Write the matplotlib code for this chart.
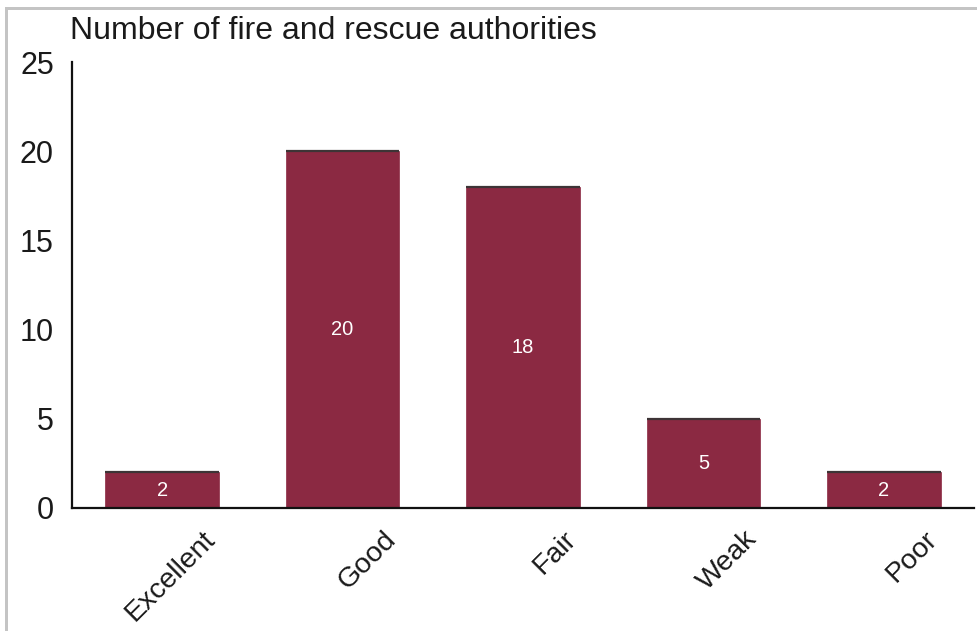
import matplotlib
matplotlib.use("Agg")
import matplotlib.pyplot as plt
from matplotlib.patches import Rectangle

categories = ["Excellent", "Good", "Fair", "Weak", "Poor"]
values = [2, 20, 18, 5, 2]
yticks = [0, 5, 10, 15, 20, 25]
title = "Number of fire and rescue authorities"

plt.rcParams['font.family'] = ['Liberation Sans', 'DejaVu Sans']

fig = plt.figure(figsize=(9.78, 6.31), dpi=100)
ax = fig.add_axes([0.0736, 0.195, 0.996 - 0.0736, 0.9017 - 0.195])

bar_w = 0.63
bar_color = "#8b2942"
x = list(range(len(categories)))
ax.bar(x, values, width=bar_w, color=bar_color, edgecolor=bar_color, linewidth=0.5)
ax.hlines(values, [xi - bar_w / 2 for xi in x], [xi + bar_w / 2 for xi in x],
          colors="#3d3436", linewidth=1.6)
for xi, v in zip(x, values):
    ax.text(xi, v / 2, str(v), ha="center", va="center", color="white", fontsize=14.5)

ax.set_xlim(-0.5, 4.5)
ax.set_ylim(0, 25)
ax.set_yticks(yticks)
ax.set_yticklabels([str(t) for t in yticks], fontsize=22, color="#1a1a1a")
ax.set_xticks(x)
ax.set_xticklabels([])
for xi, cat in zip(x, categories):
    ax.annotate(cat, xy=(xi, 0), xycoords=("data", "axes fraction"),
                xytext=(40, -18), textcoords="offset pixels",
                rotation=45, ha="right", va="top", rotation_mode="anchor",
                fontsize=20.5, color="#1a1a1a", annotation_clip=False)
ax.tick_params(axis="both", length=0)
ax.tick_params(axis="y", pad=13)
for s in ["top", "right"]:
    ax.spines[s].set_visible(False)
for s in ["left", "bottom"]:
    ax.spines[s].set_linewidth(1.6)
    ax.spines[s].set_color("#111111")

fig.text(70 / 978, 1 - 31 / 631, title, fontsize=23, ha="left", va="center", color="#1a1a1a")

# light gray frame lines (top and left)
fig.add_artist(Rectangle((5 / 978, 0), 3 / 978, 1 - 7 / 631, transform=fig.transFigure,
                         color="#c4c4c4", lw=0))
fig.add_artist(Rectangle((5 / 978, 1 - 10 / 631), 1 - 5 / 978, 3 / 631, transform=fig.transFigure,
                         color="#c4c4c4", lw=0))

fig.savefig("out.png", dpi=100)
